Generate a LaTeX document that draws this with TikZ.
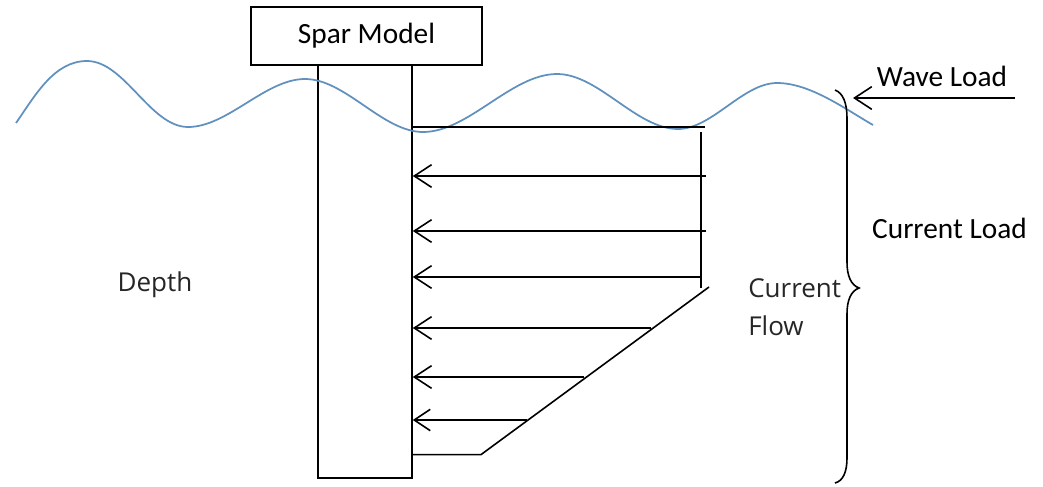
\documentclass[tikz,border=0pt]{standalone}
\usepackage{fontspec}
\setmainfont{Carlito}
\newfontfamily\blurfont{Open Sans}
\usetikzlibrary{calc,arrows.meta,positioning}

\begin{document}
\begin{tikzpicture}[x=0.75pt,y=-0.75pt,
			model/.style={draw,line width=1.5pt,minimum width=173pt,minimum height=43pt,inner sep=0pt,font=\fontsize{22}{24}\selectfont},
			spar/.style={draw,line width=1.2pt,minimum width=70.5pt,minimum height=310pt,inner sep=0pt},
			label/.style={inner sep=0pt,align=left,font=\fontsize{22}{24}\selectfont},
			flowlabel/.style={inner sep=0pt,align=left,text=black!85,font=\blurfont\fontsize{19.5}{28.5}\selectfont},
			load/.style={draw,line width=1.2pt,-{Straight Barb[length=13pt,width=17pt,line width=1.2pt]}},
			smallload/.style={draw,line width=1.2pt,-{Straight Barb[length=12pt,width=16pt,line width=1.2pt]}},
			profile/.style={draw,line width=1.2pt},
			wave/.style={draw,color={rgb,255:red,96;green,145;blue,190},line width=1.3pt}
			]
			\useasboundingbox (0,0) rectangle (1043,486);
			\fill[white] (0,0) rectangle (1043,486);
			\node [spar](column) at (365,271.5) {};
			\node [model](top) at (366.5,36) {Spar Model};
			\node [label](waveload) at (942,76) {Wave Load};
			\node [label](currentload) at (949.5,228) {Current Load};
			\node [flowlabel](depth) at (155,285) {Depth};
			\node [flowlabel,anchor=west](flow) at (748,307) {Current\\Flow};

			\coordinate (w1) at (16,123);
			\coordinate (w2) at (87,61);
			\coordinate (w3) at (188,127);
			\coordinate (w4) at (305,79);
			\coordinate (w5) at (423,132);
			\coordinate (w6) at (557,74);
			\coordinate (w7) at (678,129);
			\coordinate (w8) at (777,83);
			\coordinate (w9) at (873,125);

			\coordinate (f0) at (705,127);
			\coordinate (f1) at (706,176);
			\coordinate (f2) at (706,231);
			\coordinate (f3) at (701,277);
			\coordinate (f4) at (651,328);
			\coordinate (f5) at (584,377);
			\coordinate (f6) at (527,420);
			\coordinate (f7) at (481,454.6);
			\coordinate (g1) at (701,132);
			\coordinate (g2) at (701,288);
			\coordinate (g3) at (709,287);
			\coordinate (wavestart) at (1015,98);
			\coordinate (wavetip) at (853,98);

			\draw[wave] (w1) to[out=55,in=180,looseness=0.9] (w2) to[out=0,in=180,looseness=0.8] (w3) to[out=0,in=180,looseness=0.8] (w4) to[out=0,in=180,looseness=0.8] (w5) to[out=0,in=180,looseness=0.8] (w6) to[out=0,in=180,looseness=0.8] (w7) to[out=0,in=180,looseness=0.8] (w8) to[out=0,in=150,looseness=0.8] (w9);

			\draw[profile] (f0) -- (f0 -| column.east);
			\draw[profile] (g1) -- (g2);
			\draw[profile] (g3) -- (f7) -- (f7 -| column.east);
			\draw[load] (f1) -- (f1 -| column.east);
			\draw[load] (f2) -- (f2 -| column.east);
			\draw[load] (f3) -- (f3 -| column.east);
			\draw[load] (f4) -- (f4 -| column.east);
			\draw[load] (f5) -- (f5 -| column.east);
			\draw[smallload] (f6) -- (f6 -| column.east);
			\draw[load] (wavestart) -- (wavetip);

			% brace
			\coordinate (b1) at (835,90);
			\coordinate (b2) at (847,118);
			\coordinate (b3) at (847,262);
			\coordinate (b4) at (859,288);
			\coordinate (b5) at (847,314);
			\coordinate (b6) at (847,458);
			\coordinate (b7) at (835,483);
			\draw[line width=1.2pt] (b1) .. controls (843,93) and (847,103) .. (b2) -- (b3) .. controls (847,276) and (851,285) .. (b4) .. controls (851,291) and (847,300) .. (b5) -- (b6) .. controls (847,472) and (843,481) .. (b7);
		\end{tikzpicture}
\end{document}
